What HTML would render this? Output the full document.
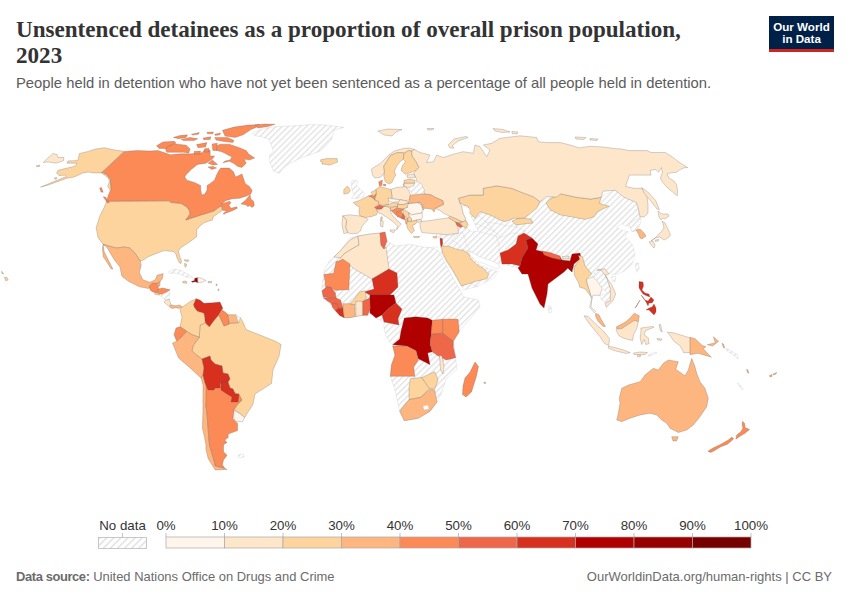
<!DOCTYPE html>
<html><head><meta charset="utf-8">
<style>
html,body{margin:0;padding:0;background:#fff;width:850px;height:600px;overflow:hidden;position:relative;font-family:"Liberation Sans",sans-serif;}
.t{position:absolute;white-space:nowrap;}
#title{left:16px;top:16px;font-family:"Liberation Serif",serif;font-weight:bold;font-size:23.1px;line-height:26px;color:#333;}
#sub{left:16px;top:74.8px;font-size:14.8px;color:#5b5b5b;}
#logo{position:absolute;left:769px;top:16px;width:65px;height:36px;background:#002147;box-sizing:border-box;border-bottom:3px solid #ce261e;color:#fff;font-weight:bold;font-size:11.6px;line-height:11.8px;text-align:center;padding-top:4.8px;letter-spacing:0}
#map{position:absolute;left:0;top:0}
.lg{position:absolute;font-size:13.3px;color:#333;top:517.6px;transform:translateX(-50%);white-space:nowrap}
#foot1{left:16px;top:569px;font-size:12.95px;color:#6b6b6b}
#foot1 b{letter-spacing:-0.4px}
#foot2{right:18px;top:569px;font-size:13px;color:#6b6b6b}
</style></head><body>
<div class="t" id="title">Unsentenced detainees as a proportion of overall prison population,<br>2023</div>
<div class="t" id="sub">People held in detention who have not yet been sentenced as a percentage of all people held in detention.</div>
<div id="logo">Our World<br>in Data</div>
<svg id="map" width="850" height="600" viewBox="0 0 850 600">
<defs>
<pattern id="h" width="4.3" height="4.3" patternUnits="userSpaceOnUse" patternTransform="rotate(45)">
<rect width="4.3" height="4.3" fill="#fff"/><rect x="0" y="0" width="1.5" height="4.3" fill="#e5e5e5"/>
</pattern>
<pattern id="h2" width="5" height="5" patternUnits="userSpaceOnUse" patternTransform="rotate(45)">
<rect width="5" height="5" fill="#fff"/><rect x="0" y="0" width="1.4" height="5" fill="#dedede"/>
</pattern>
</defs>
<g id="countries" stroke="#505050" stroke-opacity="0.55" stroke-width="0.45" stroke-linejoin="round">
<path d="M436.0,234.0 445.0,225.0 458.0,222.0 463.0,213.0 458.0,198.0 483.0,188.0 540.0,201.0 560.0,195.0 600.0,197.0 615.0,190.0 636.0,202.0 640.0,216.8 638.0,221.0 637.0,226.0 636.5,230.7 632.0,231.5 629.5,226.0 624.2,225.4 621.9,223.7 616.7,227.2 623.7,230.7 628.3,231.8 624.8,236.5 627.2,238.8 631.2,242.9 633.6,247.0 635.0,255.0 631.7,265.0 623.3,271.7 615.0,275.0 608.3,273.3 605.0,270.0 591.7,274.0 585.0,266.0 582.3,256.7 572.0,272.0 560.0,262.0 548.0,284.0 547.0,294.0 544.0,308.0 540.0,304.0 532.0,288.0 528.0,274.0 522.0,274.0 518.0,268.0 502.0,264.0 490.0,261.7 470.0,251.7 468.0,253.0 475.0,260.0 480.0,265.0 488.3,268.3 498.3,271.7 493.3,278.3 483.3,283.3 476.7,286.7 463.3,290.0 461.7,285.8 456.7,278.3 451.7,270.0 446.7,261.7 440.8,253.3 441.7,246.7 440.0,240.0Z" fill="url(#h)" stroke="#ccc" stroke-width="0.5"/>
<path d="M440.0,238.3 444.0,236.0 450.0,236.0 458.3,233.3" fill="none" stroke="#c4c4c4" stroke-width="0.55"/>
<path d="M447.0,245.0 452.0,240.0 456.0,236.0 458.3,233.3" fill="none" stroke="#c4c4c4" stroke-width="0.55"/>
<path d="M452.0,240.0 458.0,244.0 463.0,250.0 471.0,251.7" fill="none" stroke="#c4c4c4" stroke-width="0.55"/>
<path d="M458.3,233.3 462.0,232.0 465.0,238.0 466.0,244.0 471.0,251.7" fill="none" stroke="#c4c4c4" stroke-width="0.55"/>
<path d="M475.3,230.0 480.0,232.0 488.0,234.0 496.0,236.0 500.0,238.0 505.0,236.0 512.0,233.0 519.2,233.3" fill="none" stroke="#c4c4c4" stroke-width="0.55"/>
<path d="M496.0,236.0 499.0,245.0 499.4,253.2" fill="none" stroke="#c4c4c4" stroke-width="0.55"/>
<path d="M472.0,224.0 478.0,224.0 486.0,228.0 495.0,232.0 500.0,236.0" fill="none" stroke="#c4c4c4" stroke-width="0.55"/>
<path d="M478.0,215.0 486.0,222.0 500.0,224.0 507.0,226.0 512.0,226.0 519.0,228.0 526.3,231.9" fill="none" stroke="#c4c4c4" stroke-width="0.55"/>
<path d="M486.0,222.0 495.0,232.0" fill="none" stroke="#c4c4c4" stroke-width="0.55"/>
<path d="M461.2,285.7 470.0,283.0 478.2,287.2" fill="none" stroke="#c4c4c4" stroke-width="0.55"/>
<path d="M486.7,278.7 489.0,270.0" fill="none" stroke="#c4c4c4" stroke-width="0.55"/>
<path d="M406.0,245.0 418.0,249.0 419.0,277.0 396.0,269.0 389.0,269.0" fill="none" stroke="#c4c4c4" stroke-width="0.55"/>
<path d="M418.0,248.0 438.0,247.0" fill="none" stroke="#c4c4c4" stroke-width="0.55"/>
<path d="M419.0,273.0 446.0,273.0" fill="none" stroke="#c4c4c4" stroke-width="0.55"/>
<path d="M419.0,277.0 418.0,295.0 434.0,303.0 446.0,299.0 448.0,285.0" fill="none" stroke="#c4c4c4" stroke-width="0.55"/>
<path d="M418.0,295.0 410.0,299.0 402.0,309.0" fill="none" stroke="#c4c4c4" stroke-width="0.55"/>
<path d="M434.0,303.0 432.3,320.3" fill="none" stroke="#c4c4c4" stroke-width="0.55"/>
<path d="M446.0,299.0 458.0,300.0 463.0,306.0 458.0,319.0" fill="none" stroke="#c4c4c4" stroke-width="0.55"/>
<path d="M432.3,374.0 446.3,378.7" fill="none" stroke="#c4c4c4" stroke-width="0.55"/>
<path d="M392.0,325.0 404.3,318.0 400.8,332.0 399.7,339.0 392.7,344.8" fill="none" stroke="#c4c4c4" stroke-width="0.55"/>
<path d="M398.0,319.0 408.0,316.0 418.0,313.0 427.7,318.0" fill="none" stroke="#c4c4c4" stroke-width="0.55"/>
<path d="M333.7,257.0 342.4,257.6 343.0,259.3" fill="none" stroke="#c4c4c4" stroke-width="0.55"/>
<path d="M350.0,264.0 373.3,279.2" fill="none" stroke="#c4c4c4" stroke-width="0.55"/>
<path d="M440.0,238.3 442.3,238.5 442.7,244.0 441.0,247.5 440.3,243.0Z" fill="#d7301f"/>
<path d="M441.3,246.1 448.4,246.1 455.5,248.9 462.6,250.3 468.2,253.2 471.0,258.8 476.7,264.5 483.8,268.7 488.8,274.4 486.7,278.7 475.3,281.5 466.8,284.3 461.2,285.7 458.3,280.1 452.7,270.2 447.0,261.7 442.7,253.2Z" fill="#fdd49e"/>
<path d="M471.0,251.7 478.2,256.0 485.2,258.8 493.7,261.7 498.0,264.5 500.0,265.0 499.0,268.0 496.6,268.7 492.3,267.3 486.7,264.5 482.4,263.1 476.7,261.7 472.5,257.4 469.0,254.0Z" fill="#fff" stroke="#aaa" stroke-width="0.4"/>
<path d="M458.3,198.3 470.0,195.0 483.3,195.0 483.3,188.3 496.7,185.8 511.7,188.3 520.0,191.7 533.3,196.7 540.0,201.7 536.7,208.3 528.3,215.0 523.3,218.3 513.3,218.3 505.0,221.7 500.0,220.0 490.0,215.0 480.0,211.7 475.0,218.3 470.0,213.3 468.3,206.7 460.0,203.3Z" fill="#fdd49e"/>
<path d="M461.5,206.0 466.0,206.0 469.7,209.0 469.7,213.5 472.5,219.2 475.3,224.8 478.2,230.5 472.5,231.9 468.5,229.5 466.5,225.8 467.5,222.0 465.5,218.5 463.0,213.0Z" fill="#fff" stroke="#aaa" stroke-width="0.4"/>
<path d="M512.0,221.0 518.0,218.5 523.3,218.3 531.0,219.0 533.0,223.0 524.0,224.0 516.0,225.0Z" fill="#fdd49e"/>
<path d="M550.0,199.1 560.6,193.8 576.5,197.3 590.6,199.1 601.2,197.3 599.4,203.5 609.1,206.2 597.6,211.5 594.1,216.8 585.3,219.4 571.2,216.8 560.6,215.0 550.0,209.7 546.0,203.0Z" fill="#fdd49e"/>
<path d="M500.0,253.0 508.0,250.0 516.0,244.0 518.0,236.0 524.0,233.0 532.0,238.0 526.0,240.0 528.0,248.0 522.0,258.0 520.0,266.0 512.0,264.0 502.0,264.0Z" fill="#d7301f"/>
<path d="M526.0,240.0 532.0,238.0 538.0,244.0 536.0,250.0 544.0,252.0 560.0,257.0 562.0,260.0 570.0,261.0 572.0,254.0 580.0,253.0 581.0,258.0 574.0,264.0 572.0,272.0 568.0,268.0 564.0,272.0 548.0,284.0 547.0,294.0 544.0,308.0 540.0,304.0 532.0,288.0 528.0,274.0 522.0,274.0 518.0,268.0 520.0,266.0 522.0,258.0 528.0,248.0Z" fill="#b00000"/>
<path d="M542.0,251.0 550.0,252.5 560.0,256.0 561.0,260.0 552.0,258.0 544.0,255.0Z" fill="#ef6749"/>
<path d="M562.0,256.5 569.0,256.0 569.0,258.5 563.0,259.0Z" fill="#fee6cb"/>
<path d="M562.0,261.0 570.0,261.0 572.0,272.0 568.0,268.0 564.0,268.0Z" fill="#b00000"/>
<path d="M548.0,306.0 551.0,306.5 552.0,312.0 549.0,313.0Z" fill="url(#h)" stroke="#c4c4c4" stroke-width="0.55"/>
<path d="M578.3,255.3 582.3,256.7 585.0,266.0 591.7,274.0 586.3,279.3 587.7,284.7 590.3,292.7 591.7,298.0 589.0,294.0 585.0,288.7 579.7,287.3 578.3,282.0 574.3,275.3 574.3,267.3 579.7,259.3Z" fill="#fdd49e"/>
<path d="M586.3,279.3 593.0,276.7 597.0,280.7 602.3,288.7 599.7,295.3 593.0,295.3 591.7,300.7 591.0,307.3 595.7,311.3 594.3,312.7 589.7,307.3 591.7,298.0 589.0,288.7 587.7,284.7Z" fill="#fff5eb"/>
<path d="M593.0,276.7 597.0,270.0 601.0,270.0 606.3,276.7 610.3,288.7 609.0,294.0 602.3,288.7 597.0,280.7Z" fill="url(#h)" stroke="#c4c4c4" stroke-width="0.55"/>
<path d="M599.7,295.3 605.0,294.0 610.3,291.3 610.3,300.7 605.0,302.0 601.0,299.3Z" fill="url(#h)" stroke="#c4c4c4" stroke-width="0.55"/>
<path d="M597.0,270.0 605.0,268.7 609.0,274.0 605.0,275.3 611.7,284.7 615.7,294.0 613.0,300.7 606.3,307.3 605.0,303.3 610.3,300.7 610.3,288.7 606.3,276.7 601.0,270.0Z" fill="#fee6cb"/>
<path d="M595.6,313.2 598.9,314.8 601.4,319.8 605.5,326.4 603.0,326.4 598.1,321.4 595.6,316.5Z" fill="#fdb67f"/>
<path d="M635.8,263.3 638.5,263.0 639.2,268.0 637.0,271.7 635.5,268.0Z" fill="url(#h)" stroke="#c4c4c4" stroke-width="0.55"/>
<path d="M611.7,276.7 615.8,276.5 615.0,281.7 612.0,281.0Z" fill="url(#h)" stroke="#c4c4c4" stroke-width="0.55"/>
<path d="M629.5,224.2 632.4,221.9 639.0,218.0 640.0,216.8 641.0,222.0 640.0,224.0 637.5,229.0 636.5,230.7 632.0,231.5 629.5,226.0Z" fill="url(#h)" stroke="#c4c4c4" stroke-width="0.55"/>
<path d="M636.0,230.0 640.0,229.0 644.0,233.0 646.0,236.0 642.0,239.0 640.0,238.0 638.0,233.0Z" fill="#fdb67f"/>
<path d="M658.0,211.0 662.0,214.0 668.0,214.0 669.0,216.0 665.0,219.0 663.0,218.0 661.0,220.0 659.0,217.0Z" fill="#fee6cb"/>
<path d="M662.0,221.0 665.0,223.0 668.0,229.0 670.5,235.0 668.0,238.0 664.0,240.0 660.0,237.0 655.0,238.0 651.0,241.0 654.0,239.0 658.0,235.0 661.0,232.0 664.0,228.0 663.0,224.0Z" fill="#fee6cb"/>
<path d="M649.0,242.0 653.0,241.0 655.0,245.0 654.0,248.0 652.0,246.0Z" fill="#fee6cb"/>
<path d="M655.0,240.0 659.0,239.5 658.0,241.0 655.5,241.5Z" fill="#fee6cb"/>
<path d="M639.0,281.5 643.0,282.0 643.5,286.0 642.0,290.0 645.0,293.0 649.0,294.0 650.0,297.0 647.0,296.0 643.0,294.0 639.0,288.0Z" fill="#d7301f"/>
<path d="M641.0,295.0 643.0,297.0 645.0,300.0 648.0,301.0 651.0,297.0 654.0,300.0 652.0,303.0 649.0,303.0 648.0,306.0 646.0,302.0Z" fill="#d7301f"/>
<path d="M646.0,310.0 649.0,308.0 652.0,307.0 654.0,304.0 656.0,308.0 656.0,312.0 654.0,315.0 651.0,312.0 649.0,310.0Z" fill="#d7301f"/>
<path d="M635.0,308.0 640.0,300.0 639.0,302.0 636.0,307.0Z" fill="#d7301f"/>
<path d="M584.1,315.7 588.2,316.5 596.4,324.7 603.8,331.3 609.6,338.7 608.8,345.3 604.7,343.7 599.7,336.2 591.5,326.4 586.5,319.8Z" fill="#fee6cb"/>
<path d="M608.0,346.1 616.2,347.8 624.4,350.2 630.2,352.7 626.1,353.5 616.2,351.1 608.8,348.6Z" fill="#fee6cb"/>
<path d="M617.0,326.4 622.8,324.7 629.4,321.4 634.3,318.1 638.4,321.4 636.8,328.8 633.5,334.6 632.7,340.4 627.7,339.5 622.8,337.9 618.7,335.4 616.2,330.5Z" fill="#fee6cb"/>
<path d="M640.9,328.0 652.4,326.4 654.1,327.2 645.8,330.5 644.2,334.6 648.3,337.9 649.1,343.7 645.8,344.5 644.2,339.5 641.7,344.5 640.1,337.9 640.9,333.0Z" fill="#fee6cb"/>
<path d="M659.0,324.7 660.5,324.5 662.3,332.1 660.5,331.0Z" fill="#fee6cb"/>
<path d="M667.3,332.1 673.8,332.9 682.1,335.4 690.3,337.9 690.3,352.7 683.7,352.7 680.4,346.1 673.8,341.2 670.6,336.2Z" fill="#fee6cb"/>
<path d="M633.5,353.0 640.0,352.0 647.5,352.5 645.0,354.5 634.0,354.5Z" fill="#fee6cb"/>
<path d="M637.5,355.0 641.0,355.5 640.0,357.0 637.5,356.5Z" fill="#fee6cb"/>
<path d="M657.0,338.5 662.0,339.0 661.0,340.5 657.5,340.0Z" fill="#fee6cb"/>
<path d="M648.0,355.5 654.0,352.5 657.0,352.7 650.0,356.5Z" fill="url(#h)" stroke="#c4c4c4" stroke-width="0.55"/>
<path d="M616.5,327.0 621.0,324.5 626.0,321.5 630.0,318.0 634.3,313.2 639.3,315.7 638.4,321.4 634.0,320.5 628.0,324.5 622.0,328.5 617.5,329.0Z" fill="#fdb67f"/>
<path d="M690.0,337.3 695.3,338.7 702.0,345.3 706.0,346.7 703.3,348.7 711.3,357.3 707.3,356.0 698.0,353.3 690.0,354.7Z" fill="#fdb67f"/>
<path d="M350.0,238.0 358.0,236.0 370.0,234.0 380.0,233.0 385.0,232.0 387.0,241.0 395.0,246.0 406.0,245.0 410.0,244.2 421.7,246.7 433.3,248.3 438.3,250.8 445.0,263.3 453.3,278.3 460.0,290.0 463.3,296.7 478.3,300.0 480.0,306.7 471.7,316.7 463.3,326.7 458.0,332.0 453.3,341.3 455.7,357.7 456.8,369.3 446.3,378.7 441.7,392.7 437.0,402.0 430.0,411.3 418.3,418.3 404.3,420.7 399.7,411.3 395.0,390.3 390.3,376.3 391.5,364.7 395.0,355.3 392.7,344.8 390.0,342.0 386.0,336.0 384.0,328.0 384.0,322.0 376.0,318.0 370.0,313.0 367.5,315.3 362.8,315.3 355.8,316.5 350.0,317.7 344.2,317.7 339.5,315.3 332.5,307.2 327.8,301.3 323.2,296.7 322.0,290.8 322.0,285.0 323.8,274.5 324.3,269.8 329.0,261.7 333.7,257.0 340.0,251.0Z" fill="url(#h)" stroke="#c4c4c4" stroke-width="0.55"/>
<path d="M334.0,257.0 340.0,251.0 350.0,240.0 358.0,236.0 359.0,245.0 350.0,250.0 344.0,254.0 340.0,258.0Z" fill="#fee6cb"/>
<path d="M358.0,236.0 370.0,234.0 380.0,233.0 381.0,245.0 384.0,249.0 386.0,247.0 389.0,269.0 372.0,279.0 356.0,270.0 344.0,261.0 340.0,258.0 344.0,254.0 350.0,250.0 359.0,245.0Z" fill="#fee6cb"/>
<path d="M380.0,233.0 385.0,232.0 387.0,241.0 384.0,249.0 381.0,245.0Z" fill="#ef6749"/>
<path d="M323.8,274.5 333.7,273.3 336.0,261.7 343.0,259.3 350.0,264.0 348.8,289.7 334.8,290.3 331.3,287.3 325.5,287.3 325.0,280.3Z" fill="#fc8a57"/>
<path d="M372.0,279.0 389.0,269.0 397.0,273.0 398.0,287.0 390.0,295.0 370.0,295.0 364.0,292.0 374.0,289.0Z" fill="#d7301f"/>
<path d="M370.0,295.0 390.0,295.0 394.0,295.0 396.0,303.0 388.0,309.0 382.0,315.0 376.0,318.0 370.0,313.0 369.0,303.0Z" fill="#b00000"/>
<path d="M396.0,303.0 402.0,309.0 398.0,319.0 399.0,325.0 384.0,322.0 382.0,315.0 388.0,309.0Z" fill="#d7301f"/>
<path d="M322.0,290.8 326.7,286.8 331.3,287.3 335.4,293.2 336.0,297.8 329.0,297.8 323.2,296.7Z" fill="#ef6749"/>
<path d="M323.2,297.8 336.0,297.8 340.7,300.2 343.0,308.3 338.3,308.3 333.7,304.8 327.8,301.3Z" fill="#ef6749"/>
<path d="M331.3,303.7 337.2,303.7 338.3,308.3 335.4,310.7 332.5,307.2Z" fill="#ef6749"/>
<path d="M335.4,310.7 338.3,308.3 343.0,308.3 344.2,317.7 339.5,315.3Z" fill="#d7301f"/>
<path d="M343.0,303.7 350.0,303.7 354.7,304.8 355.3,316.5 350.0,317.7 344.2,317.7 343.0,308.3Z" fill="#fdb67f"/>
<path d="M350.0,303.7 353.5,300.2 359.3,292.0 365.2,290.8 366.3,297.8 364.0,301.3 354.7,304.8Z" fill="#fdd49e"/>
<path d="M355.8,301.3 362.8,301.3 362.8,315.3 355.8,316.5Z" fill="#fee6cb"/>
<path d="M362.8,301.3 369.8,297.8 370.4,308.3 367.5,315.3 362.8,315.3Z" fill="#ef6749"/>
<path d="M404.3,318.0 416.0,316.8 427.7,318.0 432.3,320.3 431.2,334.3 430.0,343.7 432.3,351.8 427.7,353.0 430.0,364.7 425.3,362.3 418.3,358.8 416.0,350.7 406.7,346.0 392.7,344.8 399.7,339.0 400.8,332.0Z" fill="#b00000"/>
<path d="M432.3,320.3 442.8,319.2 442.8,333.2 431.2,334.3Z" fill="#fc8a57"/>
<path d="M442.8,319.2 452.0,319.0 458.0,319.2 459.2,332.0 453.3,341.3 442.8,333.2Z" fill="#fc8a57"/>
<path d="M431.2,334.3 442.8,333.2 453.3,341.3 453.3,347.2 455.7,357.7 446.3,360.0 437.0,355.3 432.3,351.8 430.0,343.7Z" fill="#ef6749"/>
<path d="M392.7,346.0 406.7,346.0 416.0,350.7 418.3,360.0 413.7,367.0 414.8,376.3 390.3,376.3 391.5,364.7 395.0,355.3Z" fill="#fc8a57"/>
<path d="M439.3,355.3 442.0,356.0 444.0,366.0 443.0,374.0 440.5,370.0 440.0,362.0Z" fill="#fee6cb"/>
<path d="M410.2,378.7 421.8,377.5 430.0,388.0 420.7,397.3 409.0,399.7 409.0,388.0Z" fill="#fdd49e"/>
<path d="M421.8,377.5 434.7,371.7 438.2,379.8 434.7,389.2 428.8,388.0Z" fill="#fdd49e"/>
<path d="M406.7,402.0 409.0,399.7 420.7,397.3 430.0,389.2 434.7,390.3 437.0,402.0 430.0,411.3 418.3,418.3 404.3,420.7 399.7,411.3Z" fill="#fdb67f"/>
<path d="M423.0,406.0 428.0,405.0 429.0,409.0 424.0,410.0Z" fill="#fff" stroke="#aaa" stroke-width="0.4"/>
<path d="M475.0,362.0 478.5,366.5 476.5,376.0 471.5,392.0 466.0,397.0 462.5,394.5 463.0,386.0 465.0,378.0 470.0,372.0Z" fill="#fc8a57"/>
<path d="M484.0,382.0 485.5,382.0 485.5,383.5 484.0,383.5Z" fill="#fdd49e"/>
<path d="M252.4,133.3 257.1,130.9 264.1,128.6 273.5,126.8 285.3,126.2 297.1,125.6 311.2,124.5 326.5,125.1 344.1,127.4 334.7,129.8 332.4,135.6 331.2,140.4 325.3,146.2 320.6,150.9 311.2,154.5 300.6,158.0 291.2,162.7 282.9,168.6 279.4,173.3 273.5,170.9 270.0,162.7 269.4,155.6 273.5,150.9 271.2,145.1 268.8,139.2 261.8,136.8 254.7,135.6Z" fill="url(#h)" stroke="#c4c4c4" stroke-width="0.55"/>
<path d="M106.8,201.2 169.2,200.8 170.8,202.5 180.8,203.3 186.7,206.7 189.6,210.8 190.0,214.2 185.8,220.0 193.3,217.5 200.8,215.0 206.7,213.3 214.2,210.8 218.3,207.5 221.7,205.8 222.1,210.8 218.3,213.3 213.3,216.7 212.5,220.0 206.7,221.7 203.3,223.3 199.2,226.7 196.7,230.0 196.7,236.7 193.3,239.2 188.8,242.6 181.0,247.5 178.5,251.0 179.5,256.0 181.5,261.0 181.0,263.5 179.5,263.0 177.0,258.0 176.0,254.0 173.5,251.5 168.0,251.0 164.1,250.6 157.0,253.2 148.2,256.8 142.9,260.3 140.3,261.2 135.0,253.2 129.7,248.0 124.4,247.0 116.5,248.0 109.4,246.2 103.2,244.4 97.9,237.4 96.2,227.6 99.7,216.2 104.1,207.4Z" fill="#fdd49e"/>
<path d="M124.4,151.4 114.7,150.0 104.1,147.7 95.3,149.1 88.2,151.4 79.4,153.5 78.5,157.9 77.6,160.6 67.9,160.9 67.1,163.2 76.8,163.2 75.0,166.2 65.3,168.5 58.2,170.3 56.5,172.9 59.1,175.6 65.3,175.1 66.2,176.5 40.6,187.1 47.6,185.3 67.1,178.2 73.2,177.3 77.6,175.6 82.9,172.9 88.2,172.1 93.5,172.9 101.5,172.9 105.0,175.6 108.5,178.2 109.4,181.8 107.6,186.2 110.3,190.6 111.2,189.7 110.8,185.3 110.3,179.1 106.8,174.7 102.3,172.1Z" fill="#fdd49e"/>
<path d="M54.0,178.0 57.0,177.5 56.0,179.5Z" fill="#fdd49e"/>
<path d="M36.0,166.0 40.0,165.0 39.0,167.0Z" fill="#fdd49e"/>
<path d="M99.7,188.0 101.5,187.5 103.2,192.3 101.0,192.0Z" fill="#fc8a57"/>
<path d="M103.2,196.8 105.5,197.0 109.4,202.5 107.5,203.0Z" fill="#fc8a57"/>
<path d="M43.2,162.4 52.9,153.5 57.0,154.5 58.0,157.5 64.0,157.5 63.5,160.6 56.5,163.2 48.0,162.0Z" fill="#fee6cb"/>
<path d="M101.5,172.9 124.4,151.4 137.0,150.5 150.0,151.0 157.8,150.4 165.5,153.0 170.0,154.8 180.6,153.8 191.2,153.8 201.8,152.7 206.0,148.5 210.2,150.6 210.2,155.9 214.5,155.9 212.4,159.1 206.0,163.3 197.5,164.4 191.2,169.6 185.9,174.9 184.8,177.1 186.9,180.2 194.4,182.4 200.7,185.5 200.7,189.8 201.8,195.1 204.9,194.0 207.1,189.8 207.1,185.5 210.2,183.4 214.5,180.2 216.6,174.9 218.7,170.7 220.8,168.1 229.3,168.1 233.5,171.8 235.6,177.1 242.0,173.9 244.1,180.2 245.2,183.5 249.4,186.4 252.2,190.6 250.8,194.1 245.9,196.2 239.5,198.3 232.5,198.7 226.1,200.5 221.2,204.0 229.6,201.2 231.0,202.6 228.9,205.4 231.0,208.2 236.7,206.8 237.4,208.2 231.8,211.1 225.4,213.2 224.0,214.6 223.3,213.2 226.8,211.1 222.6,210.3 221.7,205.8 218.3,207.5 214.2,210.8 206.7,213.3 200.8,215.0 193.3,217.5 185.8,220.0 190.0,214.2 189.6,210.8 186.7,206.7 180.8,203.3 170.8,202.5 169.2,200.8 106.8,201.2 108.0,196.0 110.3,190.6 111.2,189.7 110.8,185.3 110.3,179.1 106.8,174.7 102.3,172.1Z" fill="#fc8a57"/>
<path d="M240.9,204.0 245.2,200.5 250.1,194.8 250.8,199.1 253.6,201.2 254.3,205.4 252.2,207.5 249.4,205.4 248.0,206.8 245.9,204.7Z" fill="#fc8a57"/>
<path d="M222.9,162.8 229.3,161.2 233.5,163.3 237.8,166.5 242.0,167.5 246.2,163.3 244.1,159.1 249.4,160.1 254.7,158.0 248.4,153.8 246.2,150.6 238.8,147.4 229.3,144.2 219.8,144.2 214.5,147.4 216.6,150.6 220.8,151.6 224.0,152.7 228.0,155.0 232.0,157.0 230.0,160.0 225.0,161.0Z" fill="#fc8a57"/>
<path d="M208.1,163.3 212.4,160.1 217.6,164.4 213.0,165.0Z" fill="#fc8a57"/>
<path d="M208.0,167.0 213.0,166.5 216.6,168.0 212.0,169.5Z" fill="#fc8a57"/>
<path d="M165.5,145.8 175.9,143.9 186.2,145.2 190.1,149.1 188.8,153.0 183.6,152.3 175.9,152.3 166.8,152.3 165.5,149.1Z" fill="#fc8a57"/>
<path d="M156.5,145.8 162.9,141.9 174.6,141.3 175.9,143.2 169.4,145.8 165.5,148.4 159.1,148.4Z" fill="#fc8a57"/>
<path d="M173.3,137.4 179.8,135.5 187.5,134.8 186.2,137.4 178.5,138.7Z" fill="#fc8a57"/>
<path d="M181.1,139.4 190.1,137.4 197.9,138.7 194.0,140.6 183.6,140.6Z" fill="#fc8a57"/>
<path d="M191.4,134.2 199.2,132.5 198.5,134.2 192.7,135.1Z" fill="#fc8a57"/>
<path d="M203.1,138.1 210.8,136.8 210.2,139.4 203.7,139.7Z" fill="#fc8a57"/>
<path d="M206.9,132.2 213.4,132.0 212.8,133.8 207.6,133.8Z" fill="#fc8a57"/>
<path d="M214.7,134.2 220.5,132.9 219.9,134.8 215.4,135.5Z" fill="#fc8a57"/>
<path d="M222.5,130.3 234.1,127.1 248.4,125.1 260.0,124.5 260.0,125.8 250.9,129.6 243.2,134.8 235.4,137.4 225.1,136.1 223.8,133.5Z" fill="#fc8a57"/>
<path d="M255.0,125.0 265.0,124.0 275.0,124.3 268.0,126.5 258.0,128.0Z" fill="#fc8a57"/>
<path d="M214.7,137.4 227.6,137.4 234.1,140.6 232.8,142.6 222.5,141.3 216.0,140.0Z" fill="#fc8a57"/>
<path d="M196.6,144.5 206.9,142.6 205.6,147.1 197.9,147.8Z" fill="#fc8a57"/>
<path d="M194.0,151.6 200.5,151.0 199.8,154.2 194.6,154.2Z" fill="#fc8a57"/>
<path d="M212.1,143.9 217.3,143.2 216.6,150.4 212.8,150.4Z" fill="#fc8a57"/>
<path d="M204.5,149.0 209.0,148.5 208.5,152.0 205.0,152.0Z" fill="#fc8a57"/>
<path d="M103.2,244.4 109.4,246.2 116.5,248.0 124.4,247.0 129.7,248.0 135.0,253.2 140.3,261.2 141.2,265.6 139.4,272.6 142.9,279.7 150.0,282.3 155.3,279.7 157.0,275.3 163.2,273.5 162.3,278.8 158.8,283.2 152.6,285.9 148.2,288.5 139.4,286.8 128.8,281.5 121.8,276.2 120.0,267.3 114.7,260.3 110.3,253.2 106.8,247.0Z" fill="#fdb67f"/>
<path d="M103.2,244.4 104.1,251.5 108.5,260.3 112.9,269.1 111.2,269.1 106.8,262.0 103.2,256.8 102.4,248.0Z" fill="#fdb67f"/>
<path d="M149.4,286.1 152.2,283.2 156.9,283.2 157.9,286.1 158.8,288.9 156.0,292.6 152.2,291.7 149.9,289.8Z" fill="#fc8a57"/>
<path d="M157.9,282.3 160.2,281.8 159.8,286.1 158.4,286.5Z" fill="#fdb67f"/>
<path d="M158.8,288.9 162.6,288.0 170.1,289.8 166.4,292.6 161.6,294.5 158.8,293.6 156.0,292.6Z" fill="#fc8a57"/>
<path d="M154.1,292.2 156.0,292.6 158.8,293.6 159.8,295.0 155.1,294.5Z" fill="#fdd49e"/>
<path d="M161.6,294.5 166.4,292.6 170.1,290.8 169.2,299.2 165.4,300.2 160.7,296.4Z" fill="url(#h)" stroke="#c4c4c4" stroke-width="0.55"/>
<path d="M165.4,300.2 169.2,299.2 171.1,304.9 168.2,305.8 164.0,302.1Z" fill="#fee6cb"/>
<path d="M171.1,304.9 175.8,305.8 179.5,304.9 182.4,306.8 179.5,308.6 175.8,307.7 172.0,308.6 169.2,306.8Z" fill="#fdb67f"/>
<path d="M168.2,272.0 173.9,269.1 180.5,270.1 187.1,273.8 192.7,277.1 187.1,277.6 181.4,274.8 174.8,272.9 170.1,273.4Z" fill="url(#h)" stroke="#c4c4c4" stroke-width="0.55"/>
<path d="M191.3,281.4 194.6,280.4 194.6,278.5 197.4,277.6 197.9,282.8 195.5,281.8 192.2,282.3Z" fill="#970000"/>
<path d="M197.9,277.6 201.2,278.1 205.9,280.4 202.1,282.3 197.9,282.8Z" fill="#fff5eb"/>
<path d="M182.6,281.5 186.0,281.0 187.0,283.2 183.0,283.0Z" fill="#fdd49e"/>
<path d="M208.0,281.5 211.8,281.5 211.5,282.8 208.2,282.8Z" fill="#fdd49e"/>
<path d="M184.2,259.7 188.9,260.0 188.0,261.6 185.0,261.0Z" fill="#fdd49e"/>
<path d="M184.5,263.5 186.6,264.0 186.0,267.2 184.8,266.5Z" fill="#fdd49e"/>
<path d="M216.0,284.0 217.0,284.0 217.0,285.5 216.0,285.5Z" fill="#fdd49e"/>
<path d="M218.0,289.0 219.0,289.0 219.0,290.5 218.0,290.5Z" fill="#fdd49e"/>
<path d="M195.0,322.0 200.0,325.3 205.3,322.7 209.3,326.7 213.3,321.3 218.7,314.7 220.0,317.3 224.0,326.0 229.3,324.0 229.3,323.3 237.3,322.7 238.7,322.7 240.0,317.3 243.0,322.0 246.0,329.5 260.0,335.0 276.0,341.5 281.1,344.5 279.0,356.5 273.0,370.0 271.5,383.5 255.0,394.0 252.9,404.7 248.2,411.8 244.7,417.6 238.8,412.9 234.1,409.4 237.0,405.0 242.0,400.0 239.0,398.0 239.0,394.0 235.0,394.0 233.0,389.0 230.0,388.0 228.0,382.0 230.0,379.0 228.0,374.0 223.0,373.0 222.0,366.0 215.0,364.0 211.0,360.0 210.0,356.0 202.0,359.0 196.0,354.7 192.0,350.7 193.3,345.3 199.3,337.3 200.0,325.3Z" fill="#fdd49e"/>
<path d="M193.3,304.7 196.0,298.7 200.0,300.0 204.0,303.3 213.3,302.7 220.0,302.0 222.7,308.0 218.7,314.7 213.3,321.3 209.3,326.7 205.3,322.7 204.0,313.3 197.3,311.3 194.7,308.0Z" fill="#d7301f"/>
<path d="M221.3,309.3 226.7,313.3 228.0,314.7 229.3,324.0 224.0,326.0 220.0,317.3 218.7,314.7 222.7,308.0Z" fill="#fc8a57"/>
<path d="M228.0,314.7 236.0,314.7 238.7,322.7 229.3,323.3Z" fill="#fdb67f"/>
<path d="M236.0,314.7 240.0,317.3 238.7,322.7Z" fill="url(#h)" stroke="#c4c4c4" stroke-width="0.55"/>
<path d="M182.7,306.7 190.7,301.3 196.0,298.7 193.3,304.7 194.7,308.0 197.3,311.3 204.0,313.3 205.3,322.7 200.0,325.3 199.3,337.3 192.0,334.7 186.7,331.3 180.0,326.7 182.0,317.3 180.0,310.0Z" fill="#fdd49e"/>
<path d="M176.0,328.0 180.0,326.7 186.7,331.3 181.3,337.3 176.7,341.3 174.0,334.7Z" fill="#fc8a57"/>
<path d="M173.3,342.7 176.7,341.3 181.3,337.3 186.7,331.3 192.0,334.7 199.3,337.3 193.3,345.3 192.0,350.7 196.0,354.7 202.0,359.0 204.0,368.0 203.0,375.0 201.0,378.0 189.0,367.0 178.5,358.0 172.5,343.0Z" fill="#fdb67f"/>
<path d="M201.0,378.0 203.0,375.0 205.0,383.0 208.0,390.0 205.9,405.9 207.1,414.1 208.2,429.4 209.4,444.7 212.9,456.5 215.3,465.9 224.7,468.2 227.1,469.4 215.3,470.0 208.2,458.8 205.9,449.4 205.9,444.7 204.1,435.3 202.4,428.2 202.9,411.8 202.9,400.0 203.0,385.0Z" fill="#fdb67f"/>
<path d="M206.0,386.0 214.0,386.0 221.0,386.0 228.0,390.0 234.0,392.0 240.0,396.0 242.0,400.0 237.0,405.0 234.1,409.4 232.9,418.8 237.6,423.5 237.6,430.6 228.2,434.1 228.2,437.6 224.7,440.0 227.1,442.4 223.5,444.7 223.5,451.8 227.1,455.3 223.5,460.0 222.4,464.7 224.7,468.2 215.3,465.9 212.9,456.5 209.4,444.7 208.2,429.4 207.1,414.1 205.9,405.9Z" fill="#fc8a57"/>
<path d="M202.0,359.0 210.0,356.0 211.0,360.0 215.0,364.0 222.0,366.0 223.0,373.0 228.0,374.0 230.0,379.0 228.0,382.0 221.0,382.0 220.0,388.0 215.0,388.0 214.0,390.0 208.0,390.0 205.0,383.0 203.0,375.0 204.0,368.0Z" fill="#d7301f"/>
<path d="M221.0,382.0 228.0,382.0 230.0,388.0 233.0,389.0 235.0,394.0 239.0,394.0 238.0,402.0 231.0,402.0 232.0,397.0 227.0,394.0 221.0,390.0Z" fill="#d7301f"/>
<path d="M234.1,410.6 238.8,412.9 244.7,417.6 242.4,421.8 235.3,421.2 233.5,416.5Z" fill="#fff5eb"/>
<path d="M238.0,455.0 243.0,454.0 244.0,457.0 239.0,458.0Z" fill="url(#h)" stroke="#c4c4c4" stroke-width="0.55"/>
<path d="M320.6,159.8 326.5,158.6 337.1,158.6 337.6,162.1 330.0,165.1 321.8,163.9 322.5,162.0 320.6,161.5Z" fill="#fdd49e"/>
<path d="M378.0,131.0 388.0,129.0 402.0,129.6 396.0,132.0 392.0,136.0 384.0,135.0Z" fill="#fee6cb"/>
<path d="M343.8,189.4 347.5,186.1 350.4,190.4 348.5,193.2 343.8,194.1Z" fill="#fdd49e"/>
<path d="M352.2,180.0 357.9,180.9 356.0,185.6 360.7,189.4 364.5,193.2 363.5,196.9 356.9,198.4 351.3,198.4 354.1,195.1 352.2,190.4 351.3,184.7Z" fill="url(#h)" stroke="#c4c4c4" stroke-width="0.55"/>
<path d="M371.4,169.0 374.8,166.8 380.0,163.8 384.5,159.3 389.0,154.8 394.3,151.0 399.5,149.5 404.0,148.4 410.0,148.0 414.5,149.5 411.5,151.0 408.5,150.6 404.0,153.3 401.8,152.5 396.5,152.9 390.5,155.5 386.8,161.5 383.8,166.0 384.5,172.0 383.0,175.0 380.0,177.3 374.8,178.0 372.5,175.0 371.8,172.0Z" fill="#fee6cb"/>
<path d="M383.8,166.0 386.8,161.5 390.5,155.5 396.5,152.9 401.8,152.5 404.0,153.3 403.3,159.3 400.3,161.5 397.3,165.3 394.3,171.3 395.8,175.0 393.5,178.8 392.0,182.5 389.0,184.0 385.3,181.8 383.8,176.5 384.5,172.0Z" fill="#fdd49e"/>
<path d="M404.0,153.3 408.5,150.6 411.5,151.0 412.3,156.3 416.0,161.5 419.0,167.5 416.0,170.5 410.0,172.8 405.5,174.3 401.0,170.5 402.5,165.3 405.5,161.5 403.3,159.3Z" fill="#fdd49e"/>
<path d="M414.5,149.5 420.0,152.5 430.0,155.0 426.7,162.5 433.3,161.7 436.7,155.0 443.3,157.5 453.3,154.2 463.3,151.7 473.3,153.3 475.0,145.0 480.0,146.7 486.7,156.7 490.0,150.0 483.3,145.0 491.7,143.3 500.0,138.3 520.0,135.8 536.7,137.5 538.3,141.7 546.7,142.5 550.0,142.6 560.6,142.6 571.2,145.3 579.1,147.9 590.6,146.2 603.0,147.0 617.0,148.8 620.0,148.8 629.4,150.6 647.3,150.6 651.1,152.5 665.2,152.5 672.7,157.2 680.2,162.9 687.8,167.6 684.9,167.6 680.2,169.5 676.5,172.3 670.8,172.8 667.1,174.2 668.9,177.9 673.6,180.8 676.5,184.5 677.4,189.2 677.4,195.8 672.7,192.1 667.1,187.4 661.4,180.8 660.5,177.9 662.4,172.3 661.4,167.6 658.6,172.3 655.8,169.5 650.1,170.4 651.1,175.1 642.6,175.1 629.4,175.1 625.6,186.4 634.1,188.3 641.6,188.3 645.0,192.0 647.0,196.0 648.0,205.0 648.0,213.0 644.0,217.0 640.0,216.8 638.2,208.0 636.5,202.6 624.1,197.3 615.3,190.3 603.0,191.2 601.2,197.3 590.6,199.1 576.5,197.3 560.6,193.8 557.0,197.0 546.7,196.7 540.0,201.7 533.3,196.7 520.0,191.7 511.7,188.3 496.7,185.8 483.3,188.3 483.3,195.0 470.0,195.0 458.3,198.3 460.0,203.3 461.5,206.0 463.0,213.0 465.5,218.5 465.4,220.6 462.6,222.0 455.0,218.5 449.8,216.3 444.0,213.5 440.8,211.0 435.2,208.2 443.6,204.4 442.7,200.6 434.2,196.9 431.4,195.0 424.0,194.0 424.0,189.5 421.0,183.5 417.5,184.0 416.0,178.0 413.8,173.5 416.0,170.5 419.0,167.5 416.0,161.5 412.3,156.3 411.5,151.0 414.5,149.5Z" fill="#fee6cb"/>
<path d="M403.0,184.0 407.0,183.5 407.5,185.5 403.5,186.0Z" fill="#fee6cb"/>
<path d="M448.0,145.0 454.0,139.0 466.0,136.4 468.0,137.6 458.0,141.0 452.0,146.0 454.0,148.0 450.0,148.0Z" fill="#fee6cb"/>
<path d="M493.0,128.5 503.0,129.5 510.0,132.0 502.0,132.5 495.0,131.0Z" fill="#fee6cb"/>
<path d="M512.0,131.5 518.0,132.0 517.0,134.0 512.0,133.5Z" fill="#fee6cb"/>
<path d="M427.0,128.5 434.0,128.5 432.0,130.0 428.0,130.0Z" fill="#fee6cb"/>
<path d="M575.0,137.0 586.0,137.5 584.0,139.5 576.0,139.0Z" fill="#fee6cb"/>
<path d="M590.0,138.5 598.0,139.0 597.0,140.5 590.0,140.0Z" fill="#fee6cb"/>
<path d="M641.8,187.6 649.0,193.0 655.9,200.9 659.4,209.7 657.0,209.0 650.6,200.9 644.0,193.0Z" fill="#fee6cb"/>
<path d="M407.0,175.0 413.8,173.9 415.3,177.3 410.0,178.0 407.0,177.3Z" fill="#fee6cb"/>
<path d="M404.0,180.3 410.0,179.1 415.3,180.3 414.5,183.3 404.0,183.3Z" fill="#fdd49e"/>
<path d="M404.0,183.3 414.5,183.3 413.0,187.0 407.0,187.8 404.0,186.3Z" fill="#fee6cb"/>
<path d="M409.0,187.5 414.0,186.0 416.5,182.0 421.0,183.5 424.0,189.5 424.0,194.0 412.0,194.0 409.8,189.5Z" fill="url(#h)" stroke="#c4c4c4" stroke-width="0.55"/>
<path d="M390.8,189.4 396.5,187.5 405.9,186.6 408.7,190.4 410.6,195.1 409.6,199.8 405.9,200.7 400.2,199.8 392.7,198.8 391.8,195.1Z" fill="#fee6cb"/>
<path d="M375.8,189.4 379.5,186.6 383.3,187.5 390.8,189.4 391.8,195.1 391.3,198.8 388.0,201.6 388.9,204.5 384.2,205.4 378.6,204.5 378.6,201.6 374.8,200.2 376.2,194.1Z" fill="#fdd49e"/>
<path d="M378.6,181.9 382.4,180.0 381.9,185.6 379.5,186.1Z" fill="#fc8a57"/>
<path d="M383.5,184.0 386.0,184.5 385.5,186.0 383.5,185.8Z" fill="#fc8a57"/>
<path d="M371.1,192.2 374.8,190.4 375.8,189.4 376.2,194.1 372.9,196.5Z" fill="#fdd49e"/>
<path d="M368.2,196.0 372.0,195.1 372.9,196.5 376.2,194.1 374.8,197.9 374.8,200.2 372.9,197.9Z" fill="#fc8a57"/>
<path d="M353.2,202.6 358.8,200.7 368.2,196.0 372.9,197.9 374.8,200.2 378.6,201.6 378.6,204.5 376.7,205.4 374.8,207.3 376.7,209.2 377.6,211.1 376.7,214.8 371.1,216.7 365.4,217.6 359.8,215.8 358.8,211.1 359.8,207.3 355.1,204.5Z" fill="#fdd49e"/>
<path d="M380.9,216.7 382.4,217.2 381.9,220.5 380.6,220.0Z" fill="#fdd49e"/>
<path d="M374.8,207.3 379.5,204.9 384.2,206.4 381.4,209.2 376.7,209.2Z" fill="#ef6749"/>
<path d="M384.2,205.4 388.9,204.5 392.7,202.6 398.4,203.1 397.4,206.4 392.7,207.3 387.1,206.8 384.2,206.4Z" fill="#fdd49e"/>
<path d="M388.0,197.9 391.3,198.8 392.7,198.8 400.2,199.8 398.4,201.6 392.7,202.6 388.9,201.2Z" fill="#fff5eb"/>
<path d="M398.4,201.6 400.2,199.8 405.9,200.7 408.7,202.6 404.0,204.5 398.4,204.5Z" fill="#fee6cb"/>
<path d="M397.4,204.5 404.0,204.5 408.7,202.6 408.7,203.5 407.8,207.3 403.1,209.2 397.4,208.2 397.4,206.4Z" fill="#fdd49e"/>
<path d="M389.9,208.2 392.7,207.3 397.4,206.4 397.4,208.2 396.5,208.2 393.6,210.1 390.8,210.6Z" fill="#fdd49e"/>
<path d="M390.8,210.6 393.6,210.1 396.5,208.2 397.4,208.2 403.1,209.2 403.1,210.1 401.2,211.1 396.5,212.5 400.2,216.7 402.1,218.6 397.4,216.7 393.6,212.9Z" fill="#fc8a57"/>
<path d="M396.5,212.5 401.2,211.1 403.1,213.9 402.1,217.6 400.2,216.7Z" fill="#fc8a57"/>
<path d="M403.1,210.1 403.1,209.2 406.8,209.2 408.7,212.9 409.6,216.7 407.8,218.6 404.9,216.7 403.1,213.9Z" fill="#fdd49e"/>
<path d="M401.2,217.6 402.1,217.6 403.1,213.9 404.9,216.7 404.9,219.5 402.1,219.1Z" fill="#ef6749"/>
<path d="M404.9,219.5 406.8,218.6 407.8,218.6 407.8,223.3 405.9,224.2Z" fill="#fdb67f"/>
<path d="M407.8,218.6 409.6,216.7 411.5,218.6 411.5,221.4 407.8,221.4Z" fill="#fdd49e"/>
<path d="M406.9,207.2 408.7,203.5 410.7,203.5 417.3,202.5 421.1,204.4 422.9,210.1 422.0,212.9 417.3,213.8 411.6,214.8 407.9,211.9 403.1,209.2 407.8,207.3Z" fill="#fff5eb"/>
<path d="M417.3,202.5 420.0,202.0 423.0,206.0 422.9,208.0 421.1,204.4Z" fill="#fff5eb"/>
<path d="M411.6,214.8 417.3,213.8 422.0,212.9 422.5,216.6 421.1,219.5 416.4,220.4 411.5,221.4 411.5,218.6 409.6,216.7 408.7,212.9Z" fill="#fff5eb"/>
<path d="M406.8,223.3 407.8,221.4 411.5,221.4 416.4,220.4 418.1,220.5 415.3,224.2 412.5,225.2 414.4,230.8 411.5,233.6 407.8,228.9 406.8,226.1Z" fill="#fdd49e"/>
<path d="M413.5,236.4 420.0,236.5 419.0,237.6 414.0,237.6Z" fill="#fdd49e"/>
<path d="M409.8,195.9 411.6,195.0 424.0,194.0 431.4,195.0 434.2,196.9 442.7,200.6 443.6,204.4 435.2,208.2 434.2,211.9 431.4,209.1 424.8,208.2 422.9,210.1 422.9,208.0 423.0,206.0 420.0,202.0 417.3,202.5 407.9,203.5 409.8,198.8Z" fill="#fdb67f"/>
<path d="M376.7,210.1 381.4,209.2 384.2,206.4 387.1,206.8 390.8,208.2 389.9,208.2 390.8,210.6 389.9,211.1 392.7,215.8 397.4,220.5 401.2,224.2 399.3,226.1 396.5,229.9 397.4,226.1 392.7,221.4 387.1,217.6 381.4,213.9 378.6,212.9Z" fill="#fee6cb"/>
<path d="M389.9,229.9 395.5,229.9 393.6,232.7 390.5,231.5Z" fill="#fee6cb"/>
<path d="M380.5,220.5 383.3,221.4 382.8,227.1 380.5,226.1Z" fill="#fee6cb"/>
<path d="M342.8,215.8 349.4,214.8 358.8,215.8 365.4,217.6 368.2,219.5 364.5,223.3 361.6,227.1 360.7,230.8 356.9,233.6 350.4,233.6 347.5,232.7 345.6,227.1 346.6,220.5Z" fill="#fee6cb"/>
<path d="M342.8,215.8 346.6,220.5 345.6,227.1 347.5,232.7 343.8,233.6 341.9,224.2Z" fill="#fee6cb"/>
<path d="M430.0,220.6 438.5,219.2 444.0,218.5 448.4,217.7 456.9,222.7 456.9,223.4 458.3,229.1 458.3,233.3 447.0,234.7 438.5,234.0 430.0,233.3 422.0,232.6 420.1,227.9 420.1,223.2 422.0,221.4Z" fill="#fee6cb"/>
<path d="M416.0,220.0 421.0,219.5 422.0,221.4 418.0,222.5Z" fill="#fee6cb"/>
<path d="M432.8,236.8 437.0,236.0 436.5,238.3 433.5,238.0Z" fill="#fdd49e"/>
<path d="M449.8,216.3 455.0,218.5 462.6,222.0 456.9,222.7 448.4,217.7Z" fill="#fdd49e"/>
<path d="M462.6,222.0 465.4,220.6 468.2,224.8 465.4,228.4 462.6,226.2 459.7,223.4Z" fill="#fdd49e"/>
<path d="M455.5,222.0 459.7,223.4 462.6,226.2 460.5,227.7 456.9,225.5Z" fill="#ef6749"/>
<path d="M616.7,420.0 618.3,413.3 620.0,403.3 619.2,398.3 621.7,388.3 628.3,385.0 640.0,381.7 645.0,375.0 653.3,368.3 658.3,370.0 663.3,363.3 668.3,360.0 678.3,361.7 675.8,369.2 685.0,375.8 688.3,370.0 691.7,358.3 695.0,366.7 696.7,373.3 700.0,381.7 705.0,388.3 708.3,398.3 706.7,406.7 700.0,416.7 693.3,425.0 686.7,430.0 678.3,432.5 670.0,428.3 666.7,423.3 661.7,420.0 656.7,415.0 650.0,413.3 640.0,415.0 630.0,418.3 621.7,421.7Z" fill="#fdb67f"/>
<path d="M671.7,436.7 678.3,436.7 676.5,441.0 673.0,441.0Z" fill="#fdb67f"/>
<path d="M742.5,421.3 744.6,423.3 745.0,427.5 749.6,429.6 745.0,433.3 740.8,435.8 735.8,439.2 736.7,435.0 740.8,431.7 742.9,428.3 742.1,424.2Z" fill="#fc8a57"/>
<path d="M731.7,437.1 733.8,438.8 727.5,444.2 720.8,446.7 714.2,450.8 710.8,452.5 707.9,451.3 712.5,448.3 720.8,444.2 728.3,440.0Z" fill="#fc8a57"/>
<path d="M707.3,344.7 715.3,342.7 713.3,336.7 718.7,341.3 712.7,346.0Z" fill="#fdb67f"/>
<path d="M722.0,343.3 723.5,344.0 724.7,348.0 723.3,347.5Z" fill="#fdb67f"/>
<path d="M726.0,348.0 738.0,355.0 738.0,358.7 726.0,350.0Z" fill="url(#h)" stroke="#c4c4c4" stroke-width="0.55"/>
<path d="M746.7,369.3 748.0,370.0 748.7,373.3 747.3,372.5Z" fill="#fdb67f"/>
<path d="M737.3,383.3 739.0,383.5 743.3,389.3 741.5,389.0Z" fill="url(#h)" stroke="#c4c4c4" stroke-width="0.55"/>
<path d="M769.3,375.5 772.0,374.5 772.0,376.5 770.0,377.0Z" fill="#fdb67f"/>
<path d="M773.0,374.0 776.7,372.5 776.0,374.0 773.5,375.0Z" fill="#fdb67f"/>
<path d="M4.5,277.0 7.0,277.5 8.2,280.0 5.5,280.7Z" fill="#fdd49e"/>
<path d="M1.5,271.5 3.0,272.5 3.5,274.0 2.0,273.5Z" fill="#fdd49e"/>
</g>
<!-- legend -->
<g id="legend">
<rect x="98.5" y="537.5" width="48" height="11" fill="url(#h2)" stroke="#bbb" stroke-width="0.8"/>
<g stroke="#a8a8a8" stroke-width="0.7">
<rect x="166" y="537" width="58.5" height="11" fill="#fff5eb"/>
<rect x="224.5" y="537" width="58.5" height="11" fill="#fee6cb"/>
<rect x="283" y="537" width="58.5" height="11" fill="#fdd49e"/>
<rect x="341.5" y="537" width="58.5" height="11" fill="#fdb67f"/>
<rect x="400" y="537" width="58.5" height="11" fill="#fc8a57"/>
<rect x="458.5" y="537" width="58.5" height="11" fill="#ef6749"/>
<rect x="517" y="537" width="58.5" height="11" fill="#d7301f"/>
<rect x="575.5" y="537" width="58.5" height="11" fill="#b00000"/>
<rect x="634" y="537" width="58.5" height="11" fill="#970000"/>
<rect x="692.5" y="537" width="58.5" height="11" fill="#760000"/>
<path d="M166 533V537M224.5 533V537M283 533V537M341.5 533V537M400 533V537M458.5 533V537M517 533V537M575.5 533V537M634 533V537M692.5 533V537M751 533V537M122.5 533V537"/>
</g>
</g>
</svg>
<div class="lg" style="left:122.5px">No data</div>
<div class="lg" style="left:166.0px">0%</div>
<div class="lg" style="left:224.5px">10%</div>
<div class="lg" style="left:283.0px">20%</div>
<div class="lg" style="left:341.5px">30%</div>
<div class="lg" style="left:400.0px">40%</div>
<div class="lg" style="left:458.5px">50%</div>
<div class="lg" style="left:517.0px">60%</div>
<div class="lg" style="left:575.5px">70%</div>
<div class="lg" style="left:634.0px">80%</div>
<div class="lg" style="left:692.5px">90%</div>
<div class="lg" style="left:751.0px">100%</div>
<div class="t" id="foot1"><b>Data source:</b> United Nations Office on Drugs and Crime</div>
<div class="t" id="foot2">OurWorldinData.org/human-rights | CC BY</div>
</body></html>
